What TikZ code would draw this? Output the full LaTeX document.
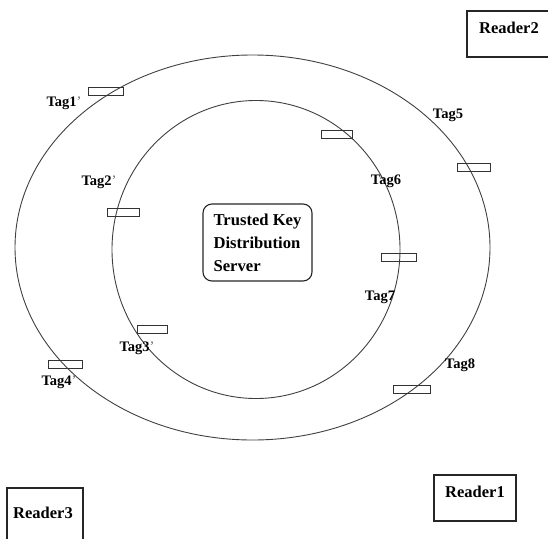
\documentclass[tikz,border=0pt]{standalone}
\usepackage{fontspec}
\setmainfont{Liberation Serif}
\begin{document}
\begin{tikzpicture}[x=1pt,y=-1pt,
  tagbox/.style={draw=black!80,line width=0.9pt,rectangle,inner sep=0pt,minimum width=35pt,minimum height=8pt},
  taglbl/.style={inner sep=0pt,font=\fontsize{14.5}{16}\selectfont\bfseries},
  readerbox/.style={draw=black!85,line width=1.1pt,rectangle,inner sep=0pt},
  readerlbl/.style={inner sep=0pt,font=\fontsize{16.5}{18}\selectfont\bfseries},
  ring/.style={draw=black!75,line width=0.9pt}]
\useasboundingbox (0,0) rectangle (548,538);
\clip (0,0) rectangle (548,538);
% rings
\draw[ring] (252.5,247.5) ellipse [x radius=237.5, y radius=192.5];
\draw[ring] (256,249.5) ellipse [x radius=144, y radius=149];
% server
\node[draw=black!85,line width=1.1pt,rounded corners=9pt,minimum width=109pt,minimum height=77pt,align=left,inner sep=0pt,
  font=\fontsize{16.6}{23}\selectfont\bfseries] (srv) at (257.5,242.5) {Trusted Key\\Distribution\\Server};
% readers
\node[readerbox,minimum width=82pt,minimum height=46pt] (r1) at (475,498) {};
\node[readerlbl] (r1t) at (475,492) {Reader1};
\node[readerbox,minimum width=90pt,minimum height=46pt] (r2) at (512,34) {};
\node[readerlbl] (r2t) at (509,28) {Reader2};
\node[readerbox,minimum width=76pt,minimum height=60pt] (r3) at (45,518) {};
\node[readerlbl] (r3t) at (43,513) {Reader3};
% tags
\node[tagbox] (t1) at (105.5,91) {};
\node[taglbl] (t1l) at (64,103) {Tag1\textmd{\color{black!60}'}};
\node[tagbox,minimum width=32pt] (t2) at (123,212) {};
\node[taglbl] (t2l) at (99,182) {Tag2\textmd{\color{black!60}'}};
\node[tagbox,minimum width=30pt] (t3) at (152,329.5) {};
\node[taglbl] (t3l) at (137,348) {Tag3\textmd{\color{black!60}'}};
\node[tagbox,minimum width=34pt] (t4) at (65,364) {};
\node[taglbl] (t4l) at (59,382) {Tag4\textmd{\color{black!60}'}};
\node[tagbox,minimum width=33pt] (t5) at (473.5,167.5) {};
\node[taglbl] (t5l) at (448,115) {Tag5};
\node[tagbox,minimum width=31pt] (t6) at (336.5,134) {};
\node[taglbl] (t6l) at (386,181) {Tag6};
\node[tagbox] (t7) at (398.5,257.5) {};
\node[taglbl] (t7l) at (380,297) {Tag7};
\node[tagbox,minimum width=37pt] (t8) at (411.5,389) {};
\node[taglbl] (t8l) at (460,365) {Tag8};
\end{tikzpicture}
\end{document}
